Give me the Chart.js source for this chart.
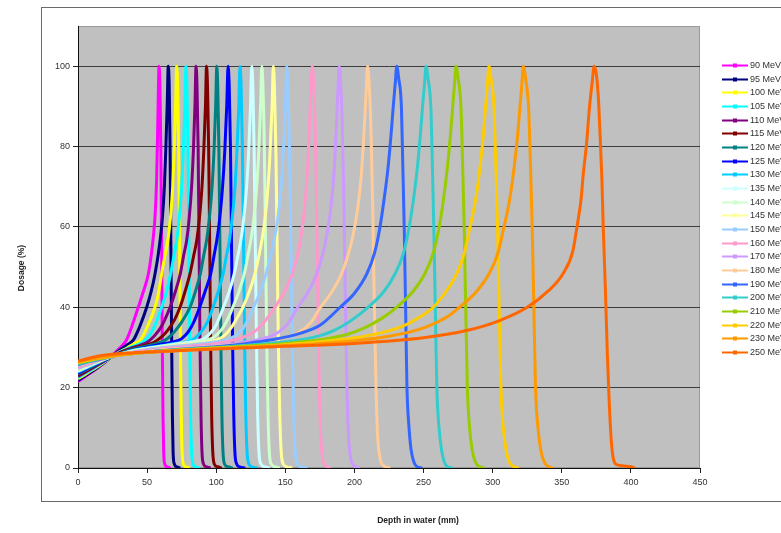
<!DOCTYPE html>
<html><head><meta charset="utf-8">
<script src="https://cdn.jsdelivr.net/npm/chart.js@4"></script>
<style>html,body{margin:0;padding:0;background:#fff;overflow:hidden}#wrap{width:781px;height:533px;position:relative}</style>
</head><body><div id="wrap"><canvas id="c" width="781" height="533"></canvas></div>
<script>
// ---------- DATA ----------
const seriesLabels = ['90 MeV','95 MeV','100 MeV','105 MeV','110 MeV','115 MeV','120 MeV','125 MeV','130 MeV','135 MeV','140 MeV','145 MeV','150 MeV','160 MeV','170 MeV','180 MeV','190 MeV','200 MeV','210 MeV','220 MeV','230 MeV','250 MeV'];
const xTicks = [0,50,100,150,200,250,300,350,400,450];
const yTicks = [0,20,40,60,80,100];
const xTitle = 'Depth in water (mm)';
const yTitle = 'Dosage (%)';

// each curve: [depth mm, dose %]
const curve90 = [[0,21.5],[5,22.7],[10,23.9],[15,25.1],[20,26.5],[25,28.1],[30,29.8],[35,31.8],[39,35.3],[43.6,40],[47,43.6],[50.9,48.3],[53,53],[54.5,57.5],[55.8,63],[56.8,71],[57.4,80],[58,91],[58.6,100],[59.3,95],[59.9,80],[60.5,55],[61,30],[61.5,13],[62,4],[62.8,1],[64.5,0.3],[67,0]];
const curve95 = [[0,21.8],[5,22.9],[10,24],[15,25.2],[20,26.5],[25,27.9],[30,29.3],[35,30.5],[40,31.8],[45,35.5],[49.7,40],[53,44],[55.7,48.3],[58,53],[59.5,57],[61,62],[62.5,70],[63.5,79],[64.5,90],[65.3,100],[66,95],[66.6,80],[67.2,55],[67.8,30],[68.3,13],[68.8,4],[69.7,1],[71.5,0.3],[74,0]];
const curve100 = [[0,22.2],[5,23.2],[10,24.3],[15,25.4],[20,26.6],[25,27.8],[30,28.9],[35,29.8],[40,30.8],[45,31.8],[50,35],[55.7,40],[58.5,44],[60.5,48.3],[63,53],[65,56.6],[66.8,62],[68.5,70],[69.6,79],[70.6,90],[71.4,100],[72.1,95],[72.8,80],[73.5,55],[74.1,30],[74.7,13],[75.3,4],[76.2,1],[78,0.3],[81,0]];
const curve105 = [[0,22.5],[5,23.5],[10,24.5],[15,25.6],[20,26.7],[25,27.8],[30,28.8],[35,29.6],[40,30.3],[45,31],[50,32.3],[55,35],[60.5,40],[64,43.8],[67,48.3],[69.5,53],[71.4,56.6],[73.2,62],[75,70],[76.2,79],[77.3,90],[78.1,100],[78.8,95],[79.5,80],[80.2,55],[80.9,30],[81.5,13],[82.2,4],[83.2,1],[85,0.3],[88,0]];
const curve110 = [[0,22.8],[5,23.8],[10,24.8],[15,25.8],[20,26.8],[25,27.8],[30,28.7],[35,29.4],[40,30],[45,30.6],[50,31.3],[55,32.8],[60,35],[66.6,40],[70.5,44],[74,48.3],[76.5,53],[78.6,56.6],[80.4,62],[82.2,70],[83.5,79],[84.6,90],[85.4,100],[86.1,95],[86.9,80],[87.6,55],[88.3,30],[89,13],[89.7,4],[90.8,1],[93,0.3],[96,0]];
const curve115 = [[0,23.1],[5,24],[10,25],[15,26],[20,26.9],[25,27.8],[30,28.6],[35,29.3],[40,29.8],[50,30.7],[55,31.3],[60,32.5],[65,34.3],[70,37],[73.8,40],[77.5,44],[81,48.3],[83.8,53],[85.9,56.6],[87.8,62],[89.7,70],[91,79],[92.2,90],[93,100],[93.7,95],[94.5,80],[95.3,55],[96,30],[96.7,13],[97.5,4],[98.6,1],[101,0.3],[104,0]];
const curve120 = [[0,23.4],[5,24.3],[10,25.2],[15,26.1],[20,27],[25,27.8],[30,28.5],[35,29.1],[40,29.6],[50,30.4],[60,31.3],[65,32.3],[70,34],[75,36.3],[81,40],[85,44],[88.5,48.3],[91,53],[93,56.6],[95,62],[97,70],[98.4,79],[99.6,90],[100.4,100],[101.1,95],[101.9,80],[102.7,55],[103.4,30],[104.1,13],[104.9,4],[106,1],[108.5,0.3],[112,0]];
const curve125 = [[0,23.6],[5,24.5],[10,25.4],[15,26.2],[20,27],[25,27.8],[30,28.4],[40,29.4],[50,30.1],[60,30.8],[70,31.5],[75,32.2],[80,34],[84,36.5],[88,40],[92,44],[96,48.3],[98.5,53],[100.4,56.6],[102.5,62],[104.6,70],[106.2,79],[107.6,90],[108.6,100],[109.4,95],[110.3,80],[111.1,55],[111.9,30],[112.7,13],[113.5,4],[114.8,1],[117,0.3],[121,0]];
const curve130 = [[0,23.9],[5,24.7],[10,25.5],[15,26.3],[20,27.1],[25,27.8],[30,28.4],[40,29.3],[50,29.9],[60,30.4],[70,31],[80,31.5],[85,32.4],[90,34.3],[94,36.6],[97.7,40],[101.5,44],[105,48.3],[107.5,53],[109.5,56.6],[111.5,62],[113.6,70],[115,79],[116.3,90],[117.2,100],[118,95],[118.9,80],[119.8,55],[120.6,30],[121.4,13],[122.3,4],[123.6,1],[126,0.3],[130,0]];
const curve135 = [[0,24.1],[5,24.9],[10,25.7],[15,26.4],[20,27.2],[25,27.8],[30,28.3],[40,29.2],[50,29.8],[60,30.3],[70,30.8],[80,31.3],[90,32],[95,33.3],[100,35.6],[105.2,40],[109.5,44],[113,48.3],[115.8,53],[117.8,56.6],[119.9,62],[122,70],[123.5,79],[124.8,90],[125.7,100],[126.5,95],[127.4,80],[128.3,55],[129.2,30],[130,13],[130.9,4],[132.3,1],[135,0.3],[139,0]];
const curve140 = [[0,24.3],[5,25.1],[10,25.8],[15,26.5],[20,27.2],[25,27.8],[30,28.3],[40,29.1],[50,29.7],[60,30.2],[70,30.6],[80,31],[90,31.5],[98,32.5],[104,34.5],[108,36.8],[112,40],[116.5,44],[120.3,48.3],[123,53],[125,56.6],[127.2,62],[129.3,70],[130.8,79],[132.1,90],[133,100],[133.8,95],[134.8,80],[135.7,55],[136.6,30],[137.5,13],[138.4,4],[139.8,1],[142.5,0.3],[146,0]];
const curve145 = [[0,24.5],[5,25.2],[10,25.9],[15,26.6],[20,27.2],[25,27.8],[30,28.2],[40,29],[50,29.6],[60,30],[70,30.4],[80,30.8],[90,31.2],[100,31.8],[106,33],[111,35],[115,37.3],[119.3,40],[124,44],[128,48.3],[131,53],[133,56.6],[135.3,62],[137.5,70],[139,79],[140.4,90],[141.3,100],[142.1,95],[143.1,80],[144.1,55],[145,30],[146,13],[147,4],[148.5,1],[151,0.3],[155,0]];
const curve150 = [[0,24.7],[5,25.4],[10,26],[15,26.7],[20,27.3],[25,27.8],[30,28.2],[40,28.9],[50,29.5],[60,29.9],[70,30.3],[80,30.6],[90,31],[100,31.4],[110,32.2],[116,33.5],[121,35.6],[127,40],[131.5,43.5],[136,48.3],[139.5,53],[142,57],[144.5,62],[147,70],[148.6,79],[150.1,90],[151,100],[151.9,95],[153,80],[154.1,55],[155.1,30],[156.1,13],[157.2,4],[158.8,1],[161.5,0.3],[166,0]];
const curve160 = [[0,25],[5,25.6],[10,26.2],[15,26.8],[20,27.3],[25,27.8],[30,28.1],[40,28.8],[50,29.3],[60,29.7],[70,30],[80,30.3],[90,30.6],[100,31],[110,31.6],[120,32.6],[128,34],[134,36],[138,37.8],[142.5,40],[149.5,44],[154.5,47.8],[158.5,52.5],[161.5,58],[164,65],[166,74],[167.3,84],[168.5,94],[169.5,100],[170.5,96],[171.6,85],[172.6,65],[173.6,40],[174.6,20],[175.6,8],[177,2.5],[179,0.6],[183,0]];
const curve170 = [[0,25.3],[5,25.8],[10,26.4],[15,26.9],[20,27.4],[25,27.8],[30,28.1],[40,28.7],[50,29.2],[60,29.5],[75,29.9],[90,30.3],[105,30.7],[120,31.3],[135,32.3],[145,33.8],[152,36],[159,40],[166,43.5],[172,47.8],[176.5,52.5],[180,58],[183,65],[185.3,74],[186.8,84],[188,94],[189,100],[190,96],[191.2,85],[192.4,65],[193.5,40],[194.6,20],[195.7,8],[197.3,2.5],[199.5,0.6],[204,0]];
const curve180 = [[0,25.5],[5,26],[10,26.5],[15,27],[20,27.4],[25,27.8],[30,28.1],[40,28.6],[50,29],[60,29.4],[75,29.8],[90,30.1],[105,30.5],[120,30.9],[135,31.5],[150,32.5],[160,33.8],[168,36],[175.5,40],[183,43.5],[190,47.8],[195,52.5],[199,58],[202.5,65],[205.2,74],[207,84],[208.5,94],[209.5,100],[210.6,96],[211.9,85],[213.2,65],[214.4,40],[215.6,20],[216.8,8],[218.5,2.5],[221,0.6],[226,0]];
const curve190 = [[0,25.7],[5,26.2],[10,26.6],[15,27],[20,27.4],[25,27.8],[30,28.1],[40,28.5],[50,28.9],[60,29.2],[80,29.7],[100,30.2],[122,31],[140,31.9],[160.6,33.5],[175,35.5],[189.6,40],[200,43.5],[209,48.4],[214.5,53.5],[218.5,60],[221.5,67],[224.3,74.7],[226.5,83],[228,89.6],[229.6,96],[230.6,100],[232,97],[234,89.6],[235,75],[236,60],[237,40],[238,20],[239.5,10],[241,4.5],[243,1.5],[245,0.4],[249,0]];
const curve200 = [[0,25.9],[5,26.3],[10,26.7],[15,27.1],[20,27.5],[25,27.8],[30,28.1],[40,28.5],[50,28.8],[60,29.1],[80,29.6],[100,30],[125,30.6],[150,31.4],[170,32.5],[185,34.2],[198,36.8],[209.8,40],[221,43.8],[229.5,48.4],[235.5,53.5],[239.6,60],[242.8,67],[245.5,74.7],[247.7,83],[249.2,89.6],[250.8,96],[251.8,100],[253.2,97],[255.3,89.6],[256.4,75],[257.4,60],[258.5,40],[259.6,20],[261.2,10],[263,4.5],[265,1.5],[267,0.4],[271,0]];
const curve210 = [[0,26.1],[5,26.5],[10,26.9],[15,27.2],[20,27.5],[25,27.8],[30,28.1],[40,28.5],[50,28.8],[60,29.1],[80,29.5],[100,29.9],[125,30.4],[150,31],[175,31.9],[195,33.3],[208,35],[220,37.3],[230.5,40],[242,43.8],[251,48.4],[257,53.5],[261.3,60],[264.5,67],[267.2,74.7],[269.5,83],[271,89.6],[272.5,96],[273.5,100],[275,97],[277.1,89.6],[278.3,75],[279.4,60],[280.5,40],[281.7,20],[283.3,10],[285.2,4.5],[287.5,1.5],[290,0.4],[294,0]];
const curve220 = [[0,26.3],[5,26.7],[10,27],[15,27.3],[20,27.6],[25,27.9],[30,28.1],[40,28.5],[50,28.8],[60,29],[80,29.4],[100,29.8],[125,30.2],[150,30.7],[175,31.4],[200,32.4],[220,33.7],[235,35.3],[247,37.5],[257,40],[266,43.8],[274,48.4],[279.5,53.5],[283.6,60],[287.8,67],[290.8,74.7],[293.3,83],[294.8,89.6],[296.3,96],[297.3,100],[298.8,97],[301,89.6],[302.3,75],[303.5,60],[304.7,40],[306,20],[307.7,10],[309.7,4.5],[312,1.5],[315,0.4],[319,0]];
const curve230 = [[0,26.4],[5,26.8],[10,27.1],[15,27.4],[20,27.7],[25,27.9],[30,28.1],[40,28.5],[50,28.8],[60,29],[80,29.4],[100,29.7],[125,30.1],[150,30.5],[175,31],[200,31.7],[225,32.8],[245,34.3],[258,36],[268,37.8],[276,40],[288,43.8],[297.5,48.4],[303.8,53.5],[308.2,60],[312.4,67],[315.5,74.7],[318.1,83],[319.7,89.6],[321.2,96],[322.2,100],[323.8,97],[326,89.6],[327.4,75],[328.6,60],[329.8,40],[331,20],[332.8,10],[334.8,4.5],[337.3,1.5],[340,0.4],[344,0]];
const curve250 = [[0,26.6],[10,27.5],[20,28.1],[35,28.6],[60,29],[100,29.6],[150,30.3],[200,31],[250,32.4],[281,34.2],[305,36.7],[325,40],[340,44],[351,48.4],[358,54],[361,60],[364,67],[365.5,73],[368,81],[370,89.6],[372,96],[373.4,100],[375,98],[376.5,92],[377.7,83],[379,72],[380,60],[381.5,45],[383,28],[384.5,15],[386,6],[387.5,2],[390,0.8],[395,0.5],[400,0.3],[403,0]];

const curves = [curve90,curve95,curve100,curve105,curve110,curve115,curve120,curve125,curve130,curve135,curve140,curve145,curve150,curve160,curve170,curve180,curve190,curve200,curve210,curve220,curve230,curve250];

// ---------- STYLE ----------
const seriesColors = ['#FF00FF','#000080','#FFFF00','#00FFFF','#800080','#800000','#008080','#0000FF','#00CCFF','#CCFFFF','#CCFFCC','#FFFF99','#99CCFF','#FF99CC','#CC99FF','#FFCC99','#3366FF','#33CCCC','#99CC00','#FFCC00','#FF9900','#FF6600'];
const FONT = 'Liberation Sans, Arial, sans-serif';
const PLOT = {left:78, right:700, top:26, bottom:468};

const datasets = curves.map((c, i) => ({
  label: seriesLabels[i],
  data: c.map(p => ({x: p[0], y: p[1]})),
  borderColor: seriesColors[i],
  backgroundColor: seriesColors[i],
  borderWidth: 3,
  pointRadius: 0,
  cubicInterpolationMode: 'monotone',
  fill: false,
  order: curves.length - i
}));

const framePlugin = {
  id: 'frame',
  beforeDraw(chart) {
    const ctx = chart.ctx, a = chart.chartArea;
    ctx.save();
    ctx.fillStyle = '#ffffff';
    ctx.fillRect(0, 0, chart.width, chart.height);
    ctx.strokeStyle = '#6a6a6a';
    ctx.lineWidth = 1;
    ctx.strokeRect(41.5, 7.5, 800, 494);
    ctx.fillStyle = '#C0C0C0';
    ctx.fillRect(a.left, a.top, a.right - a.left, a.bottom - a.top);
    ctx.strokeStyle = '#9a9a9a';
    ctx.strokeRect(a.left + 0.5, a.top + 0.5, a.right - a.left - 1, a.bottom - a.top - 1);
    ctx.restore();
  },
  afterDraw(chart) {
    const ctx = chart.ctx;
    ctx.save();
    ctx.fillStyle = '#222';
    ctx.font = 'bold 8.5px ' + FONT;
    ctx.textAlign = 'center';
    ctx.textBaseline = 'middle';
    ctx.fillText(xTitle, 418, 521);
    ctx.translate(22, 268);
    ctx.rotate(-Math.PI / 2);
    ctx.fillText(yTitle, 0, 0);
    ctx.restore();
    // legend
    ctx.save();
    ctx.font = '9px ' + FONT;
    ctx.textAlign = 'left';
    ctx.textBaseline = 'middle';
    chart.data.datasets.forEach((ds, i) => {
      const y = Math.round(65 + i * 13.67) + 0.5;
      ctx.strokeStyle = ds.borderColor;
      ctx.lineWidth = 2;
      ctx.beginPath(); ctx.moveTo(722, y); ctx.lineTo(748, y); ctx.stroke();
      ctx.fillStyle = ds.borderColor;
      ctx.fillRect(733, y - 2, 4, 4);
      ctx.fillStyle = '#333';
      ctx.fillText(ds.label, 750, y);
    });
    ctx.restore();
  }
};

new Chart(document.getElementById('c'), {
  type: 'line',
  data: { datasets },
  options: {
    responsive: false,
    animation: false,
    devicePixelRatio: 1,
    layout: { padding: { left: 0, top: PLOT.top, right: 781 - PLOT.right, bottom: 0 } },
    plugins: { legend: { display: false }, tooltip: { enabled: false } },
    scales: {
      x: {
        type: 'linear', min: 0, max: 450,
        afterFit: s => { s.height = 533 - PLOT.bottom; },
        afterBuildTicks: s => { s.ticks = xTicks.map(v => ({value: v})); },
        ticks: { font: { family: FONT, size: 9 }, color: '#333', padding: 4, maxRotation: 0 },
        grid: { drawOnChartArea: false, drawTicks: true, tickLength: 5, tickColor: '#222' },
        border: { color: '#111', width: 1 }
      },
      y: {
        min: 0, max: 110,
        afterFit: s => { s.width = PLOT.left; },
        afterBuildTicks: s => { s.ticks = yTicks.map(v => ({value: v})); },
        ticks: { font: { family: FONT, size: 9 }, color: '#333', padding: 3 },
        grid: { color: '#3c3c3c', lineWidth: 1, drawTicks: true, tickLength: 5, tickColor: '#222' },
        border: { color: '#111', width: 1 }
      }
    }
  },
  plugins: [framePlugin]
});
</script></body></html>
